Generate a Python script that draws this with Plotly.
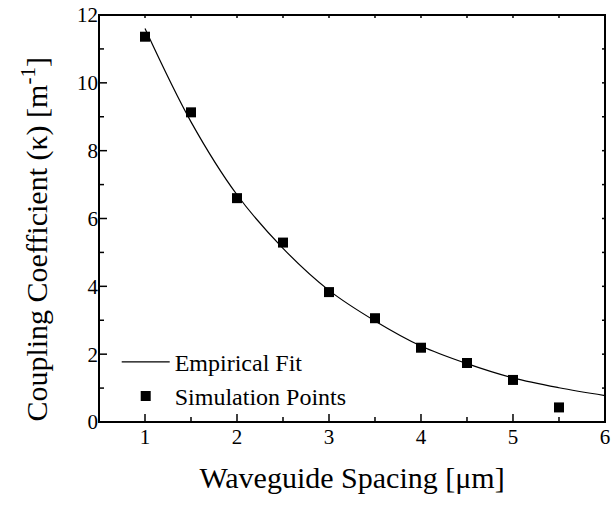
import plotly.graph_objects as go

# Simulation points
sim_x = [1.0, 1.5, 2.0, 2.5, 3.0, 3.5, 4.0, 4.5, 5.0, 5.5]
sim_y = [11.36, 9.13, 6.60, 5.29, 3.83, 3.06, 2.19, 1.74, 1.24, 0.43]

# Empirical fit curve
fit_x = [1.0, 1.5, 2.0, 2.5, 3.0, 3.5, 4.0, 4.5, 5.0, 5.5, 6.0]
fit_y = [11.6, 8.85, 6.7, 5.12, 3.88, 2.98, 2.24, 1.72, 1.30, 1.01, 0.78]

x_ticks = [1, 2, 3, 4, 5, 6]
x_minor = [1.5, 2.5, 3.5, 4.5, 5.5]
y_ticks = [0, 2, 4, 6, 8, 10, 12]
y_minor = [1, 3, 5, 7, 9, 11]
x_range = [0.5, 6.0]
y_range = [0.0, 12.0]

font_family = "Times New Roman, Liberation Serif, Times, serif"

fig = go.Figure()
fig.add_trace(go.Scatter(
    x=fit_x, y=fit_y, mode="lines", name="Empirical Fit",
    line=dict(color="black", width=1.2, shape="spline", smoothing=1.0),
))
fig.add_trace(go.Scatter(
    x=sim_x, y=sim_y, mode="markers", name="Simulation Points",
    marker=dict(symbol="square", size=10, color="black"),
))

axis_common = dict(
    showgrid=False, zeroline=False, showline=False, ticks="",
    tickfont=dict(family=font_family, size=21, color="black"),
    ticklabeloverflow="allow",
)

fig.update_xaxes(
    range=[x_range[0], x_range[1] + 1e-4], tickvals=x_ticks,
    title=dict(text="Waveguide Spacing [μm]", font=dict(family=font_family, size=30, color="black"), standoff=18),
    **axis_common,
)
fig.update_yaxes(
    range=[y_range[0], y_range[1] + 1e-4], tickvals=y_ticks,
    **axis_common,
)

# frame
fig.add_shape(type="rect", xref="paper", yref="paper", x0=0, x1=1, y0=0, y1=1,
              line=dict(color="black", width=2), layer="above")

def xtick(v, length, anchor_val):
    fig.add_shape(type="line", xref="x", yref="y", x0=v, x1=v,
                  ysizemode="pixel", yanchor=anchor_val, y0=0, y1=length,
                  line=dict(color="black", width=1.5), layer="above")

def ytick(v, length, anchor_val):
    fig.add_shape(type="line", xref="x", yref="y", y0=v, y1=v,
                  xsizemode="pixel", xanchor=anchor_val, x0=0, x1=length,
                  line=dict(color="black", width=1.5), layer="above")

for v in x_ticks:
    xtick(v, 8, y_range[0])
    xtick(v, -3, y_range[1])
for v in x_minor:
    xtick(v, 5, y_range[0])
    xtick(v, -3, y_range[1])
for v in y_ticks:
    ytick(v, 8, x_range[0])
    ytick(v, -3, x_range[1])
for v in y_minor:
    ytick(v, 5, x_range[0])
    ytick(v, -3, x_range[1])

# y-axis title placed as rotated annotation (it sits a bit below the axis centre)
fig.add_annotation(
    text="Coupling Coefficient (κ) [m<sup>-1</sup>]",
    xref="paper", yref="paper", x=-0.125, y=0.45,
    xanchor="center", yanchor="middle", textangle=-90, showarrow=False,
    font=dict(family=font_family, size=30, color="black"),
)

fig.update_layout(
    width=613, height=510,
    margin=dict(l=99, r=3, t=6, b=88),
    paper_bgcolor="white", plot_bgcolor="white",
    font=dict(family=font_family, color="black"),
    legend=dict(
        x=0.035, y=0.202, xanchor="left", yanchor="top",
        bgcolor="rgba(0,0,0,0)", borderwidth=0,
        font=dict(family=font_family, size=24, color="black"),
        tracegroupgap=0, itemwidth=48,
    ),
)

fig.write_html("out.html")
